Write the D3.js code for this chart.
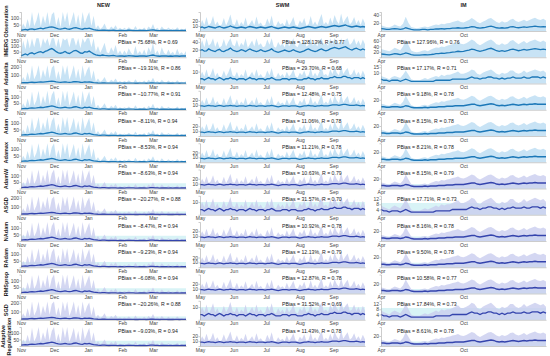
<!DOCTYPE html>
<html><head><meta charset="utf-8">
<script src="https://cdn.jsdelivr.net/npm/d3@7"></script>
<style>body{margin:0;background:#fff}svg{display:block;font-family:"Liberation Sans",Arial,sans-serif}</style>
</head><body><svg id="c" width="550" height="356"></svg>
<script>
// ---------- labels ----------
const rowNames = ["Observation","IMERG","Adadelta","Adagrad","Adam","Adamax","AdamW","ASGD","NAdam","RAdam","RMSprop","SGD","Adaptive|Regularization"];
const colNames = ["NEW","SWM","IM"];
const pbiasNEW = [null,"75.68","\u221219.31","\u221210.77","\u22128.11","\u22128.53","\u22128.63","\u221220.27","\u22128.47","\u22129.23","\u22126.08","\u221220.26","\u22129.03"];
const rNEW     = [null,"0.69","0.86","0.91","0.94","0.94","0.94","0.88","0.94","0.94","0.94","0.88","0.94"];
const pbiasSWM = [null,"128.13","29.70","12.48","11.06","11.21","10.63","31.57","10.92","12.13","12.87","31.52","11.43"];
const rSWM     = [null,"0.77","0.68","0.75","0.78","0.78","0.79","0.70","0.78","0.79","0.78","0.69","0.78"];
const pbiasIM  = [null,"127.96","17.17","9.18","8.15","8.21","8.15","17.71","8.16","9.50","10.58","17.84","8.61"];
const rIM      = [null,"0.76","0.71","0.78","0.78","0.78","0.79","0.73","0.78","0.78","0.77","0.73","0.78"];

// ---------- NEW (every 2 days, 1 Nov - 31 Mar) ----------
const newObsMean = [6,9,12,8,14,17,12,15,19,22,17,23,26,30,33, 29,22,17,15,18,22,17,14,19,24,26,21,16,14,21,19, 23,17,11,8,6,5,7,6,5,4,5,6,4,3,5, 4,3,4,6,5,4,3,3,4,5,4,3,5,7, 9,6,4,3,4,5,4,3,4,3,5,4,3,4,5,4];
const newObsMax  = [15,60,25,95,30,150,40,80,150,35,120,60,150,45,130, 150,40,110,30,150,70,150,35,90,150,45,130,30,150,60,110, 150,40,120,20,45,15,30,60,18,12,35,20,45,12,25, 10,25,12,30,15,8,40,12,20,10,28,8,35,18, 55,12,25,8,35,15,10,28,12,20,8,30,12,18,10,22];
const newImergMean = [15,22,30,20,35,40,28,38,45,50,40,52,60,70,78, 66,50,40,36,42,52,40,34,45,58,62,50,38,35,50,46, 55,42,30,22,18,15,20,17,15,12,14,16,12,10,13, 11,9,11,15,13,11,9,9,11,13,11,9,13,17, 20,15,11,9,11,13,11,9,11,9,12,11,9,11,13,11];
const newImergMax  = [40,150,70,170,80,170,90,170,170,80,170,120,170,100,170, 170,90,170,80,170,150,170,90,170,170,100,170,80,170,130,170, 170,90,170,50,100,40,80,130,45,35,90,50,110,30,60, 25,60,30,80,40,20,100,30,55,25,70,20,90,45, 130,30,60,20,90,40,25,70,30,50,20,75,30,45,25,55];
const newModelMean = [7,9,11,9,13,15,12,14,17,19,16,20,23,26,29, 26,20,16,14,17,20,16,14,17,21,23,19,15,13,19,17, 20,15,10,8,6,5,6,6,5,4,5,5,4,3,4, 4,3,4,5,5,4,3,3,4,4,4,3,4,6, 7,5,4,3,4,4,4,3,4,3,4,4,3,4,4,4];
const newModelMax  = [12,50,20,85,25,140,35,70,145,30,105,50,145,40,115, 145,35,95,25,145,60,145,30,80,140,40,115,25,145,50,95, 140,35,105,15,38,12,25,50,15,10,30,16,38,10,20, 8,20,10,25,12,6,34,10,16,8,23,6,30,15, 46,10,20,6,30,12,8,23,10,16,6,25,10,15,8,18];
const newWeakMax   = [20,80,30,140,40,220,50,110,220,45,170,80,220,60,190, 220,50,150,40,220,100,220,45,120,220,60,180,40,220,80,160, 210,50,160,25,60,20,40,80,22,15,45,25,60,15,30, 12,30,15,40,18,10,50,15,25,12,35,10,45,22, 70,15,30,10,45,18,12,35,15,25,10,40,15,22,12,28];

// ---------- SWM (every 2 days, 1 May - 30 Sep) ----------
const swmObsMean = [7,8,6,7,9,8,7,6,8,9, 7,6,7,8,10,8,7,6,7,8, 7,6,8,9,8,7,6,7,8,7, 6,7,8,9,7,6,5,6,7,8, 7,6,7,8,7,6,5,6,7,8, 9,8,7,6,7,8,9,8,7,8, 9,10,11,10,9,10,11,12,10,9, 8,9,10,9,8,9,8];
const swmObsMax  = [10,22,12,28,11,16,30,12,19,10, 13,26,11,20,33,14,12,24,10,18, 12,27,10,15,22,11,29,13,17,10, 12,25,14,31,11,10,20,13,16,10, 24,11,18,28,12,10,21,15,26,11, 14,30,12,19,11,23,34,13,18,12, 27,15,32,20,14,35,16,24,30,13, 18,28,14,22,12,25,15];
const swmImergMean = [18,20,16,17,22,19,17,15,19,21, 16,15,18,20,24,19,17,15,17,20, 18,15,19,22,19,17,15,17,20,17, 15,17,19,22,17,15,13,15,17,19, 17,15,17,20,17,15,13,15,17,20, 22,19,17,15,17,20,22,19,17,19, 22,24,26,24,22,24,26,28,24,21, 19,22,24,21,19,22,19];
const swmImergMax  = [28,45,26,50,30,36,50,27,42,25, 30,48,28,40,50,33,29,46,26,38, 30,50,25,34,44,28,50,31,37,26, 29,47,33,50,28,25,40,30,36,26, 46,28,38,50,30,26,42,34,48,28, 32,50,30,40,28,45,50,32,38,30, 50,34,50,42,33,50,36,46,50,32, 38,50,33,44,30,47,34];
const swmModelMean = [8,8,7,8,9,8,8,7,8,9, 8,7,8,8,9,8,8,7,8,8, 8,7,8,9,8,8,7,8,8,8, 7,8,8,9,8,7,6,7,8,8, 8,7,8,8,8,7,6,7,8,8, 9,8,8,7,8,8,9,8,8,8, 9,10,10,10,9,10,11,11,10,9, 9,9,10,9,8,9,8];
const swmModelMax  = [11,20,12,25,11,15,27,12,18,10, 12,24,11,19,30,13,12,22,10,17, 12,25,10,14,20,11,26,12,16,10, 11,23,13,28,11,10,18,12,15,10, 22,11,17,26,12,10,19,14,24,11, 13,27,12,18,11,21,31,12,17,12, 25,14,29,19,14,32,15,22,28,13, 17,26,14,20,12,23,14];
const swmWeakMean  = [4,4,3,4,5,4,4,3,4,5, 4,3,4,4,5,4,4,3,4,4, 4,3,4,5,4,4,3,4,4,4, 3,4,4,5,4,3,3,3,4,4, 4,3,4,4,4,3,3,3,4,4, 5,4,4,3,4,4,5,4,4,4, 5,5,6,5,5,5,6,6,5,5, 4,5,5,5,4,5,4];
const swmWeakMax   = [6,10,6,12,5,8,13,6,9,5, 6,11,6,9,14,7,6,10,5,8, 6,12,5,7,10,6,12,6,8,5, 6,11,7,13,6,5,9,6,8,5, 10,6,8,12,6,5,9,7,11,6, 7,13,6,9,6,10,14,7,8,6, 12,8,14,9,7,15,8,11,13,7, 8,12,7,10,6,11,7];

// ---------- IM (daily, April then October) ----------
const imObsMean = [6,5,4,4,5,6,5,4,5,8, 6,4,3,3,3,4,4,3,4,4, 5,5,6,5,6,6,7,7,8,7, 7,8,9,11,10,8,7,8,9,11, 12,10,8,7,8,7,8,10,11,9, 8,9,10,9,10,11,12,11,10,11, 10];
const imObsMax  = [14,12,10,9,12,16,13,11,18,35, 20,10,8,7,8,10,11,9,12,14, 16,15,18,17,19,20,22,24,26,22, 21,24,27,32,28,22,19,23,26,30, 32,27,22,20,24,21,23,28,30,25, 22,25,28,24,27,30,33,29,27,30, 26];
const imImergMean = [12,11,10,9,11,13,12,10,12,16, 13,10,8,8,8,9,10,9,10,11, 13,13,15,14,16,17,19,20,22,21, 22,24,26,30,28,24,22,24,27,31, 33,29,24,22,24,22,24,28,30,27, 24,26,29,26,28,30,32,30,28,30, 28];
const imImergMax  = [30,28,25,22,28,35,30,26,40,65, 45,25,20,18,20,24,26,22,28,32, 36,35,40,38,42,45,48,52,58,50, 48,52,58,65,60,50,44,50,56,62, 65,58,48,45,52,46,50,60,64,55, 48,54,60,52,58,62,65,60,56,62, 55];
const imModelMean = [6,6,5,5,6,6,6,5,6,8, 7,5,4,4,4,4,5,4,5,5, 5,6,6,6,7,7,7,8,8,8, 8,9,10,11,11,9,8,9,10,11, 12,11,9,8,9,8,9,10,11,10, 9,10,11,10,11,11,12,11,11,11, 11];
const imModelMax  = [12,11,9,8,11,14,12,10,16,28, 18,9,7,6,7,9,10,8,11,13, 15,14,17,16,18,19,21,22,24,21, 20,22,25,28,26,21,18,21,24,27, 28,25,21,19,22,20,22,26,27,23, 21,23,26,22,25,27,29,26,25,27, 24];
const imWeakMean  = [4,3,3,2,3,3,3,2,3,4, 3,2,2,2,2,2,2,2,2,2, 3,3,3,3,3,3,4,4,4,4, 4,4,5,6,5,5,4,5,5,6, 6,5,5,4,5,4,5,5,6,5, 5,5,6,5,5,6,6,6,5,6, 5];
const imWeakMax   = [7,6,5,4,6,7,6,5,8,12, 8,4,3,3,3,4,5,4,5,6, 7,6,8,7,8,8,9,10,11,9, 9,10,11,13,12,9,8,10,11,12, 13,11,9,8,10,9,10,12,12,10, 9,10,12,10,11,12,13,12,11,12, 10];

// y-axis ticks / top per row
const ticksNEW = [[50,100],[50,100,150],[100,200],[50,100],[50,100],[50,100],[50,100],[100,200],[50,100],[50,100],[50,100],[100,200],[50,100]];
const ticksSWM = [[10,20],[20,40],[10],[10,20],[10,20],[10,20],[10,20],[10],[10,20],[10,20],[10,20],[10],[10,20]];
const ticksIM  = [[20,40],[20,40,60],[10,15],[20],[20],[20],[20],[4,8,12],[20],[20],[20],[4,8,12],[20]];
const ymaxNEW = [150,170,230,145,145,145,145,230,145,145,145,230,145];
const ymaxSWM = [38,50,16,39,39,39,39,15,39,39,39,15,39];
const ymaxIM  = [47,70,17.5,38,38,38,38,14.5,38,38,38,14.5,38];
const cyanLevel = [40,10,9];   // light cyan reference band (data units) for lower rows

// ---------- drawing ----------
const svg = d3.select("#c");
const colX = [[21,186],[200,365],[381,546]];
const rowTop = i => 12 + 26.25*i, rowBot = i => 31 + 26.25*i;
const weakRows = [2,7,11];

const cols = [
  {pb:pbiasNEW, r:rNEW, ticks:ticksNEW, ymax:ymaxNEW, pbx:118,
   obs:[newObsMean,newObsMax], imerg:[newImergMean,newImergMax], model:[newModelMean,newModelMax], weak:[newModelMean,newWeakMax],
   x: d3.scaleTime().domain([new Date(2020,10,1), new Date(2021,2,31)]), start:new Date(2020,10,1), step:2, kind:"time"},
  {pb:pbiasSWM, r:rSWM, ticks:ticksSWM, ymax:ymaxSWM, pbx:282,
   obs:[swmObsMean,swmObsMax], imerg:[swmImergMean,swmImergMax], model:[swmModelMean,swmModelMax], weak:[swmWeakMean,swmWeakMax],
   x: d3.scaleTime().domain([new Date(2021,4,1), new Date(2021,8,30)]), start:new Date(2021,4,1), step:2, kind:"time"},
  {pb:pbiasIM, r:rIM, ticks:ticksIM, ymax:ymaxIM, pbx:397,
   obs:[imObsMean,imObsMax], imerg:[imImergMean,imImergMax], model:[imModelMean,imModelMax], weak:[imWeakMean,imWeakMax],
   x: d3.scaleLinear().domain([0,60]), kind:"idx"}
];

colNames.forEach((n,c)=>{
  svg.append("text").attr("x",(colX[c][0]+colX[c][1])/2).attr("y",7).attr("text-anchor","middle")
    .attr("font-size",5.5).attr("font-weight","bold").attr("fill","#222").text(n);
});

rowNames.forEach((name,i)=>{
  const cy = (rowTop(i)+rowBot(i))/2;
  const parts = name.split("|");
  const t = svg.append("text").attr("transform",`translate(${parts.length>1?5:8},${cy}) rotate(-90)`)
    .attr("text-anchor","middle").attr("font-size",5.5).attr("font-weight","bold").attr("fill","#222");
  parts.forEach((p,k)=>t.append("tspan").attr("x",0).attr("dy",k?6:0).text(p));
});

cols.forEach((col,c)=>{
  const x = col.x.copy().range(colX[c]);
  const xOf = (d,k)=> col.kind==="time" ? x(d3.timeDay.offset(col.start,k*col.step)) : x(k);
  rowNames.forEach((name,i)=>{
    const y = d3.scaleLinear().domain([0,col.ymax[i]]).range([rowBot(i),rowTop(i)]).clamp(true);
    const g = svg.append("g");
    const set = i===0?col.obs: i===1?col.imerg: weakRows.includes(i)?col.weak: col.model;
    const lower = i>=6;
    const bandCol = lower ? "#c9cdef" : "#c2e0f4";
    const lineCol = lower ? "#3444ad" : "#1c78b8";
    const area = d3.area().x((d,k)=>xOf(d,k)).y0(y(0)).y1(d=>y(d));
    if(lower){
      g.append("rect").attr("x",colX[c][0]).attr("width",colX[c][1]-colX[c][0])
        .attr("y",y(cyanLevel[c])).attr("height",y(0)-y(cyanLevel[c])).attr("fill","#d8f3f6");
    }
    g.append("path").datum(set[1]).attr("d",area).attr("fill",bandCol).attr("opacity",lower?0.8:0.9);
    g.append("path").datum(set[0]).attr("d",d3.line().x((d,k)=>xOf(d,k)).y(d=>y(d)))
      .attr("fill","none").attr("stroke",lineCol).attr("stroke-width",1.3);
    // axes
    const ya = g.append("g").attr("transform",`translate(${colX[c][0]},0)`)
      .call(d3.axisLeft(y).tickValues(col.ticks[i]).tickSize(1.5).tickPadding(0.5));
    const xa = g.append("g").attr("transform",`translate(0,${rowBot(i)})`);
    if(col.kind==="time") xa.call(d3.axisBottom(x).ticks(d3.timeMonth.every(1)).tickFormat(d3.timeFormat("%b")).tickSize(0).tickPadding(2));
    else xa.call(d3.axisBottom(x).tickValues([0,30]).tickFormat(d=>d===0?"Apr":"Oct").tickSize(0).tickPadding(2));
    [ya,xa].forEach(a=>{a.selectAll("text").attr("font-size",5).attr("fill","#444").attr("font-family","Liberation Sans, Arial, sans-serif");
      a.selectAll("path,line").attr("stroke","#999").attr("stroke-width",0.5);});
    if(col.pb[i]!==null){
      g.append("text").attr("x",col.pbx).attr("y",rowTop(i)+5.5).attr("font-size",5.2).attr("fill","#222")
        .text(`PBias = ${col.pb[i]}%, R = ${col.r[i]}`);
    }
  });
});
</script></body></html>
